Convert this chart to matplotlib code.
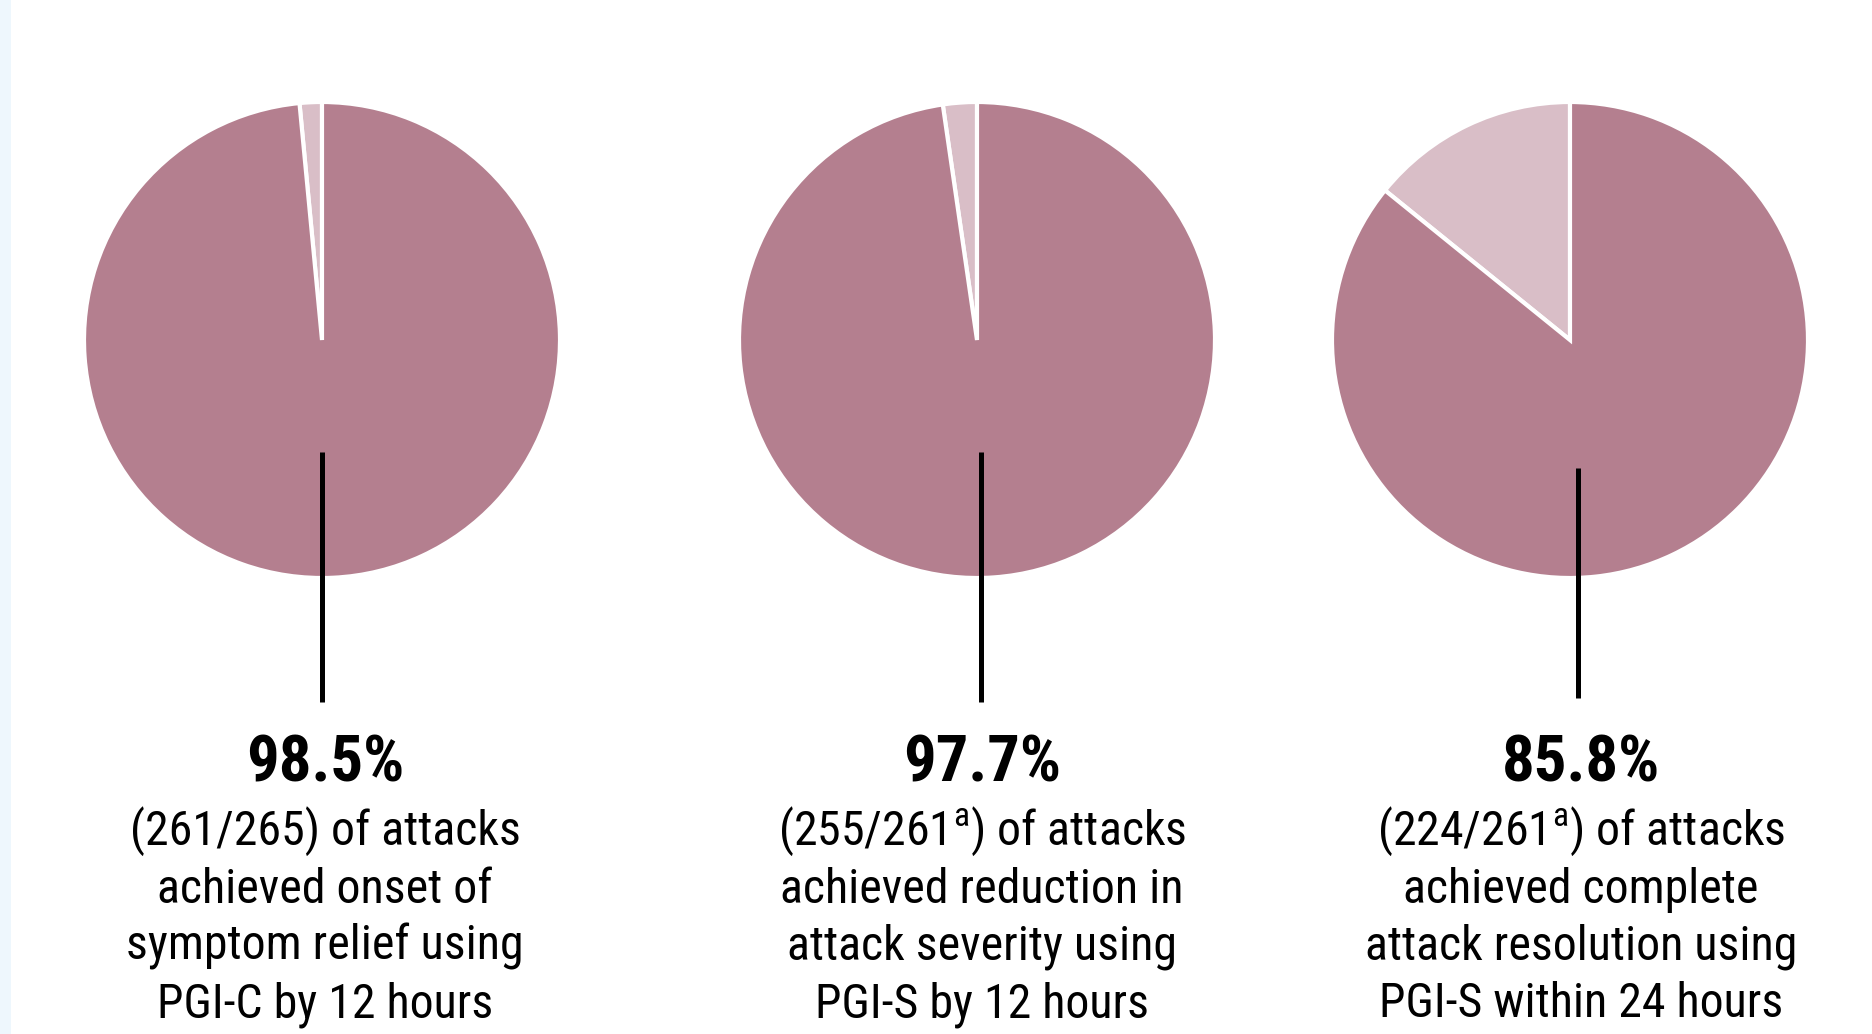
import matplotlib
matplotlib.use("Agg")
import matplotlib.pyplot as plt
from matplotlib import font_manager as fm
from matplotlib.lines import Line2D

# ---- data ----
achieved = [261, 255, 224]
totals = [265, 261, 261]
pct_labels = ["98.5%", "97.7%", "85.8%"]
desc_lines = [
    ["(261/265) of attacks", "achieved onset of", "symptom relief using", "PGI-C by 12 hours"],
    ["(255/261$^{\\mathrm{a}}$) of attacks", "achieved reduction in", "attack severity using", "PGI-S by 12 hours"],
    ["(224/261$^{\\mathrm{a}}$) of attacks", "achieved complete", "attack resolution using", "PGI-S within 24 hours"],
]

main_color = "#B47F8F"
light_color = "#D9BEC7"

# ---- font selection ----
names = {f.name for f in fm.fontManager.ttflist}
family = "Roboto"
for cand in ["Roboto Condensed", "Liberation Sans Narrow", "Open Sans Condensed"]:
    if cand in names:
        family = cand
        break

plt.rcParams["font.family"] = [family, "DejaVu Sans"]
plt.rcParams["mathtext.fontset"] = "custom"
plt.rcParams["mathtext.rm"] = family

W, H = 1872, 1034
fig = plt.figure(figsize=(W / 100, H / 100), dpi=100)
fig.patch.set_facecolor("white")

# light blue strip at left
fig.add_artist(plt.Rectangle((0, 0), 11 / W, 1, transform=fig.transFigure,
                             facecolor="#EEF7FD", edgecolor="none"))

centers_x = [322, 977, 1570]
center_y = 340
radius = 238
line_x = [322, 981, 1578]
line_top = [452, 452, 468]
line_bot = [702, 702, 698]
text_x = [325, 982, 1581]

for i in range(3):
    cx = centers_x[i]
    ax = fig.add_axes([(cx - radius) / W, (H - center_y - radius) / H,
                       2 * radius / W, 2 * radius / H])
    not_ach = totals[i] - achieved[i]
    ax.pie([not_ach, achieved[i]], colors=[light_color, main_color], startangle=90,
           counterclock=True, radius=1,
           wedgeprops=dict(edgecolor="white", linewidth=3))
    ax.set_xlim(-1, 1)
    ax.set_ylim(-1, 1)
    ax.set_aspect("equal")
    ax.axis("off")

    fig.add_artist(Line2D([line_x[i] / W, line_x[i] / W],
                          [1 - line_top[i] / H, 1 - line_bot[i] / H],
                          transform=fig.transFigure, color="black", linewidth=3.6,
                          solid_capstyle="butt"))

    fig.text(text_x[i] / W, 1 - 781 / H, pct_labels[i], ha="center", va="baseline",
             fontsize=46.5, fontweight="bold", color="black")
    baselines = [845, 903, 960, 1017]
    for j, ln in enumerate(desc_lines[i]):
        fig.text(text_x[i] / W, 1 - baselines[j] / H, ln, ha="center", va="baseline",
                 fontsize=34.5, color="black")

fig.savefig("out.png", dpi=100, facecolor="white")
